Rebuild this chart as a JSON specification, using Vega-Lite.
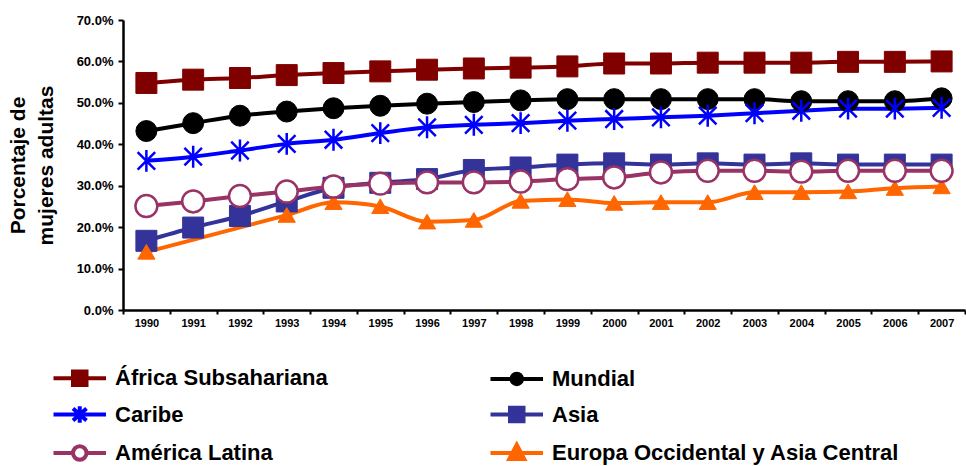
{
  "$schema": "https://vega.github.io/schema/vega-lite/v6.json",
  "autosize": {"type": "none"},
  "padding": {"left": 123, "top": 20, "right": 1, "bottom": 156},
  "width": 842,
  "height": 290,
  "background": "white",
  "config": {"view": {"stroke": null}, "font": "Liberation Sans"},
  "datasets": {
    "d": [
      {"year": "1990", "series": "África Subsahariana", "v": 54.8},
      {"year": "1991", "series": "África Subsahariana", "v": 55.6},
      {"year": "1992", "series": "África Subsahariana", "v": 56.0},
      {"year": "1993", "series": "África Subsahariana", "v": 56.7},
      {"year": "1994", "series": "África Subsahariana", "v": 57.2},
      {"year": "1995", "series": "África Subsahariana", "v": 57.6},
      {"year": "1996", "series": "África Subsahariana", "v": 58.0},
      {"year": "1997", "series": "África Subsahariana", "v": 58.3},
      {"year": "1998", "series": "África Subsahariana", "v": 58.5},
      {"year": "1999", "series": "África Subsahariana", "v": 58.8},
      {"year": "2000", "series": "África Subsahariana", "v": 59.5},
      {"year": "2001", "series": "África Subsahariana", "v": 59.5},
      {"year": "2002", "series": "África Subsahariana", "v": 59.7},
      {"year": "2003", "series": "África Subsahariana", "v": 59.7},
      {"year": "2004", "series": "África Subsahariana", "v": 59.7},
      {"year": "2005", "series": "África Subsahariana", "v": 59.9},
      {"year": "2006", "series": "África Subsahariana", "v": 59.9},
      {"year": "2007", "series": "África Subsahariana", "v": 60.0},
      {"year": "1990", "series": "Mundial", "v": 43.2},
      {"year": "1991", "series": "Mundial", "v": 45.1},
      {"year": "1992", "series": "Mundial", "v": 46.9},
      {"year": "1993", "series": "Mundial", "v": 47.9},
      {"year": "1994", "series": "Mundial", "v": 48.7},
      {"year": "1995", "series": "Mundial", "v": 49.3},
      {"year": "1996", "series": "Mundial", "v": 49.8},
      {"year": "1997", "series": "Mundial", "v": 50.2},
      {"year": "1998", "series": "Mundial", "v": 50.6},
      {"year": "1999", "series": "Mundial", "v": 50.9},
      {"year": "2000", "series": "Mundial", "v": 50.9},
      {"year": "2001", "series": "Mundial", "v": 50.9},
      {"year": "2002", "series": "Mundial", "v": 50.9},
      {"year": "2003", "series": "Mundial", "v": 50.9},
      {"year": "2004", "series": "Mundial", "v": 50.4},
      {"year": "2005", "series": "Mundial", "v": 50.4},
      {"year": "2006", "series": "Mundial", "v": 50.4},
      {"year": "2007", "series": "Mundial", "v": 51.1},
      {"year": "1990", "series": "Caribe", "v": 36.0},
      {"year": "1991", "series": "Caribe", "v": 37.0},
      {"year": "1992", "series": "Caribe", "v": 38.5},
      {"year": "1993", "series": "Caribe", "v": 40.1},
      {"year": "1994", "series": "Caribe", "v": 41.1},
      {"year": "1995", "series": "Caribe", "v": 42.7},
      {"year": "1996", "series": "Caribe", "v": 44.1},
      {"year": "1997", "series": "Caribe", "v": 44.7},
      {"year": "1998", "series": "Caribe", "v": 45.1},
      {"year": "1999", "series": "Caribe", "v": 45.7},
      {"year": "2000", "series": "Caribe", "v": 46.1},
      {"year": "2001", "series": "Caribe", "v": 46.5},
      {"year": "2002", "series": "Caribe", "v": 46.9},
      {"year": "2003", "series": "Caribe", "v": 47.5},
      {"year": "2004", "series": "Caribe", "v": 48.1},
      {"year": "2005", "series": "Caribe", "v": 48.6},
      {"year": "2006", "series": "Caribe", "v": 48.6},
      {"year": "2007", "series": "Caribe", "v": 48.8},
      {"year": "1990", "series": "Asia", "v": 16.7},
      {"year": "1991", "series": "Asia", "v": 19.9},
      {"year": "1992", "series": "Asia", "v": 22.7},
      {"year": "1993", "series": "Asia", "v": 26.2},
      {"year": "1994", "series": "Asia", "v": 29.5},
      {"year": "1995", "series": "Asia", "v": 30.7},
      {"year": "1996", "series": "Asia", "v": 31.6},
      {"year": "1997", "series": "Asia", "v": 33.8},
      {"year": "1998", "series": "Asia", "v": 34.4},
      {"year": "1999", "series": "Asia", "v": 35.1},
      {"year": "2000", "series": "Asia", "v": 35.4},
      {"year": "2001", "series": "Asia", "v": 35.1},
      {"year": "2002", "series": "Asia", "v": 35.4},
      {"year": "2003", "series": "Asia", "v": 35.1},
      {"year": "2004", "series": "Asia", "v": 35.4},
      {"year": "2005", "series": "Asia", "v": 35.1},
      {"year": "2006", "series": "Asia", "v": 35.1},
      {"year": "2007", "series": "Asia", "v": 35.1},
      {"year": "1990", "series": "América Latina", "v": 25.1},
      {"year": "1991", "series": "América Latina", "v": 26.2},
      {"year": "1992", "series": "América Latina", "v": 27.5},
      {"year": "1993", "series": "América Latina", "v": 28.6},
      {"year": "1994", "series": "América Latina", "v": 29.8},
      {"year": "1995", "series": "América Latina", "v": 30.5},
      {"year": "1996", "series": "América Latina", "v": 30.8},
      {"year": "1997", "series": "América Latina", "v": 30.8},
      {"year": "1998", "series": "América Latina", "v": 31.0},
      {"year": "1999", "series": "América Latina", "v": 31.6},
      {"year": "2000", "series": "América Latina", "v": 32.0},
      {"year": "2001", "series": "América Latina", "v": 33.2},
      {"year": "2002", "series": "América Latina", "v": 33.6},
      {"year": "2003", "series": "América Latina", "v": 33.6},
      {"year": "2004", "series": "América Latina", "v": 33.4},
      {"year": "2005", "series": "América Latina", "v": 33.6},
      {"year": "2006", "series": "América Latina", "v": 33.6},
      {"year": "2007", "series": "América Latina", "v": 33.6},
      {"year": "1990", "series": "Europa Occidental y Asia Central", "v": 14.0},
      {"year": "1993", "series": "Europa Occidental y Asia Central", "v": 22.9},
      {"year": "1994", "series": "Europa Occidental y Asia Central", "v": 26.0},
      {"year": "1995", "series": "Europa Occidental y Asia Central", "v": 25.0},
      {"year": "1996", "series": "Europa Occidental y Asia Central", "v": 21.3},
      {"year": "1997", "series": "Europa Occidental y Asia Central", "v": 21.7},
      {"year": "1998", "series": "Europa Occidental y Asia Central", "v": 26.3},
      {"year": "1999", "series": "Europa Occidental y Asia Central", "v": 26.7},
      {"year": "2000", "series": "Europa Occidental y Asia Central", "v": 25.8},
      {"year": "2001", "series": "Europa Occidental y Asia Central", "v": 26.0},
      {"year": "2002", "series": "Europa Occidental y Asia Central", "v": 26.0},
      {"year": "2003", "series": "Europa Occidental y Asia Central", "v": 28.4},
      {"year": "2004", "series": "Europa Occidental y Asia Central", "v": 28.4},
      {"year": "2005", "series": "Europa Occidental y Asia Central", "v": 28.6},
      {"year": "2006", "series": "Europa Occidental y Asia Central", "v": 29.4},
      {"year": "2007", "series": "Europa Occidental y Asia Central", "v": 29.8}
    ]
  },
  "data": {"name": "d"},
  "encoding": {
    "x": {
      "field": "year", "type": "ordinal",
      "scale": {"type": "band", "paddingInner": 0, "paddingOuter": 0},
      "axis": {
        "title": null, "labelAngle": 0, "labelFont": "Liberation Sans", "labelFontSize": 11, "labelFontWeight": "bold", "labelColor": "#000",
        "tickBand": "extent", "tickSize": 4, "tickWidth": 2, "tickColor": "#000", "domainColor": "#000", "domainWidth": 2.5, "labelPadding": 3, "grid": false
      }
    },
    "y": {
      "field": "v", "type": "quantitative",
      "scale": {"domain": [0, 70], "nice": false, "zero": true},
      "axis": {
        "values": [0, 10, 20, 30, 40, 50, 60, 70],
        "labelExpr": "format(datum.value, '.1f') + '%'",
        "grid": false, "labelFont": "Liberation Sans", "labelFontSize": 13, "labelFontWeight": "bold", "labelColor": "#000",
        "tickSize": 5, "tickWidth": 2, "tickColor": "#000", "domainColor": "#000", "domainWidth": 2.5, "labelPadding": 5,
        "title": ["Porcentaje de", "mujeres adultas"], "titleFont": "Liberation Sans", "titleFontSize": 21, "titleFontWeight": "bold", "titleColor": "#000",
        "titleLineHeight": 28, "titlePadding": 20
      }
    }
  },
  "resolve": {"scale": {"shape": "independent", "fill": "independent", "stroke": "independent"}},
  "layer": [
    {
      "mark": {"type": "line", "strokeWidth": 4, "interpolate": "monotone"},
      "encoding": {
        "color": {
          "field": "series", "type": "nominal", "legend": null,
          "scale": {
            "domain": ["África Subsahariana", "Caribe", "América Latina", "Mundial", "Asia", "Europa Occidental y Asia Central"],
            "range": ["#800000", "#0000ff", "#993366", "#000000", "#333399", "#ff6600"]
          }
        }
      }
    },
    {
      "transform": [{"filter": "datum.series !== 'Caribe' && datum.series !== 'América Latina'"}],
      "mark": {"type": "point", "filled": false, "strokeWidth": 1, "opacity": 1, "size": 440},
      "encoding": {
        "shape": {
          "field": "series", "type": "nominal", "legend": null,
          "scale": {
            "domain": ["África Subsahariana", "Caribe", "América Latina", "Mundial", "Asia", "Europa Occidental y Asia Central"],
            "range": ["square", "M0,-1V1M-0.8,-0.8L0.8,0.8M-0.8,0.8L0.8,-0.8", "circle", "circle", "square", "M0,-0.72L0.82,0.68H-0.82Z"]
          }
        },
        "fill": {
          "field": "series", "type": "nominal", "legend": null,
          "scale": {
            "domain": ["África Subsahariana", "Caribe", "América Latina", "Mundial", "Asia", "Europa Occidental y Asia Central"],
            "range": ["#800000", "transparent", "#ffffff", "#000000", "#333399", "#ff6600"]
          }
        },
        "stroke": {
          "field": "series", "type": "nominal", "legend": null,
          "scale": {
            "domain": ["África Subsahariana", "Caribe", "América Latina", "Mundial", "Asia", "Europa Occidental y Asia Central"],
            "range": ["#800000", "#0000ff", "#993366", "#000000", "#333399", "#ff6600"]
          }
        }
      }
    },
    {
      "transform": [{"filter": "datum.series === 'Caribe' || datum.series === 'América Latina'"}],
      "mark": {"type": "point", "filled": false, "strokeWidth": 2.5, "opacity": 1, "size": 480},
      "encoding": {
        "shape": {
          "field": "series", "type": "nominal", "legend": null,
          "scale": {
            "domain": ["África Subsahariana", "Caribe", "América Latina", "Mundial", "Asia", "Europa Occidental y Asia Central"],
            "range": ["square", "M0,-1V1M-0.8,-0.8L0.8,0.8M-0.8,0.8L0.8,-0.8", "circle", "circle", "square", "M0,-0.72L0.82,0.68H-0.82Z"]
          }
        },
        "fill": {
          "field": "series", "type": "nominal", "legend": null,
          "scale": {
            "domain": ["África Subsahariana", "Caribe", "América Latina", "Mundial", "Asia", "Europa Occidental y Asia Central"],
            "range": ["#800000", "transparent", "#ffffff", "#000000", "#333399", "#ff6600"]
          }
        },
        "stroke": {
          "field": "series", "type": "nominal", "legend": null,
          "scale": {
            "domain": ["África Subsahariana", "Caribe", "América Latina", "Mundial", "Asia", "Europa Occidental y Asia Central"],
            "range": ["#800000", "#0000ff", "#993366", "#000000", "#333399", "#ff6600"]
          }
        }
      }
    },
    {
      "transform": [{"filter": "false"}],
      "mark": {"type": "point", "filled": false, "strokeWidth": 4, "opacity": 1},
      "encoding": {
        "shape": {
          "field": "series", "type": "nominal",
          "scale": {
            "domain": ["África Subsahariana", "Caribe", "América Latina", "Mundial", "Asia", "Europa Occidental y Asia Central"],
            "range": [
              "M-2.5,0H1M-1.2,-0.45H-0.3V0.45H-1.2Z",
              "M-2.5,0H1M-0.75,-0.55V0.55M-1.2,-0.4L-0.3,0.4M-1.2,0.4L-0.3,-0.4",
              "M-2.5,0H-1.2M-0.3,0H1M-0.3,0A0.45,0.45 0 1,1 -1.2,0A0.45,0.45 0 1,1 -0.3,0Z",
              "M-2.5,0H1M-0.4,0A0.35,0.35 0 1,1 -1.1,0A0.35,0.35 0 1,1 -0.4,0Z",
              "M-2.5,0H1M-1.2,-0.45H-0.3V0.45H-1.2Z",
              "M-2.5,0H1M-0.75,-0.55L-0.25,0.4H-1.25Z"
            ]
          },
          "legend": {
            "title": null, "orient": "none", "legendX": -49, "legendY": 341, "columns": 2, "columnPadding": 154, "rowPadding": 4.5,
            "symbolSize": 900, "symbolStrokeWidth": 4, "labelOffset": 7, "labelFont": "Liberation Sans", "labelFontSize": 22, "labelFontWeight": "bold", "labelColor": "#000", "labelLimit": 600
          }
        },
        "fill": {
          "field": "series", "type": "nominal", "legend": {"title": null},
          "scale": {
            "domain": ["África Subsahariana", "Caribe", "América Latina", "Mundial", "Asia", "Europa Occidental y Asia Central"],
            "range": ["#800000", "transparent", "#ffffff", "#000000", "#333399", "#ff6600"]
          }
        },
        "stroke": {
          "field": "series", "type": "nominal", "legend": {"title": null},
          "scale": {
            "domain": ["África Subsahariana", "Caribe", "América Latina", "Mundial", "Asia", "Europa Occidental y Asia Central"],
            "range": ["#800000", "#0000ff", "#993366", "#000000", "#333399", "#ff6600"]
          }
        }
      }
    }
  ]
}
